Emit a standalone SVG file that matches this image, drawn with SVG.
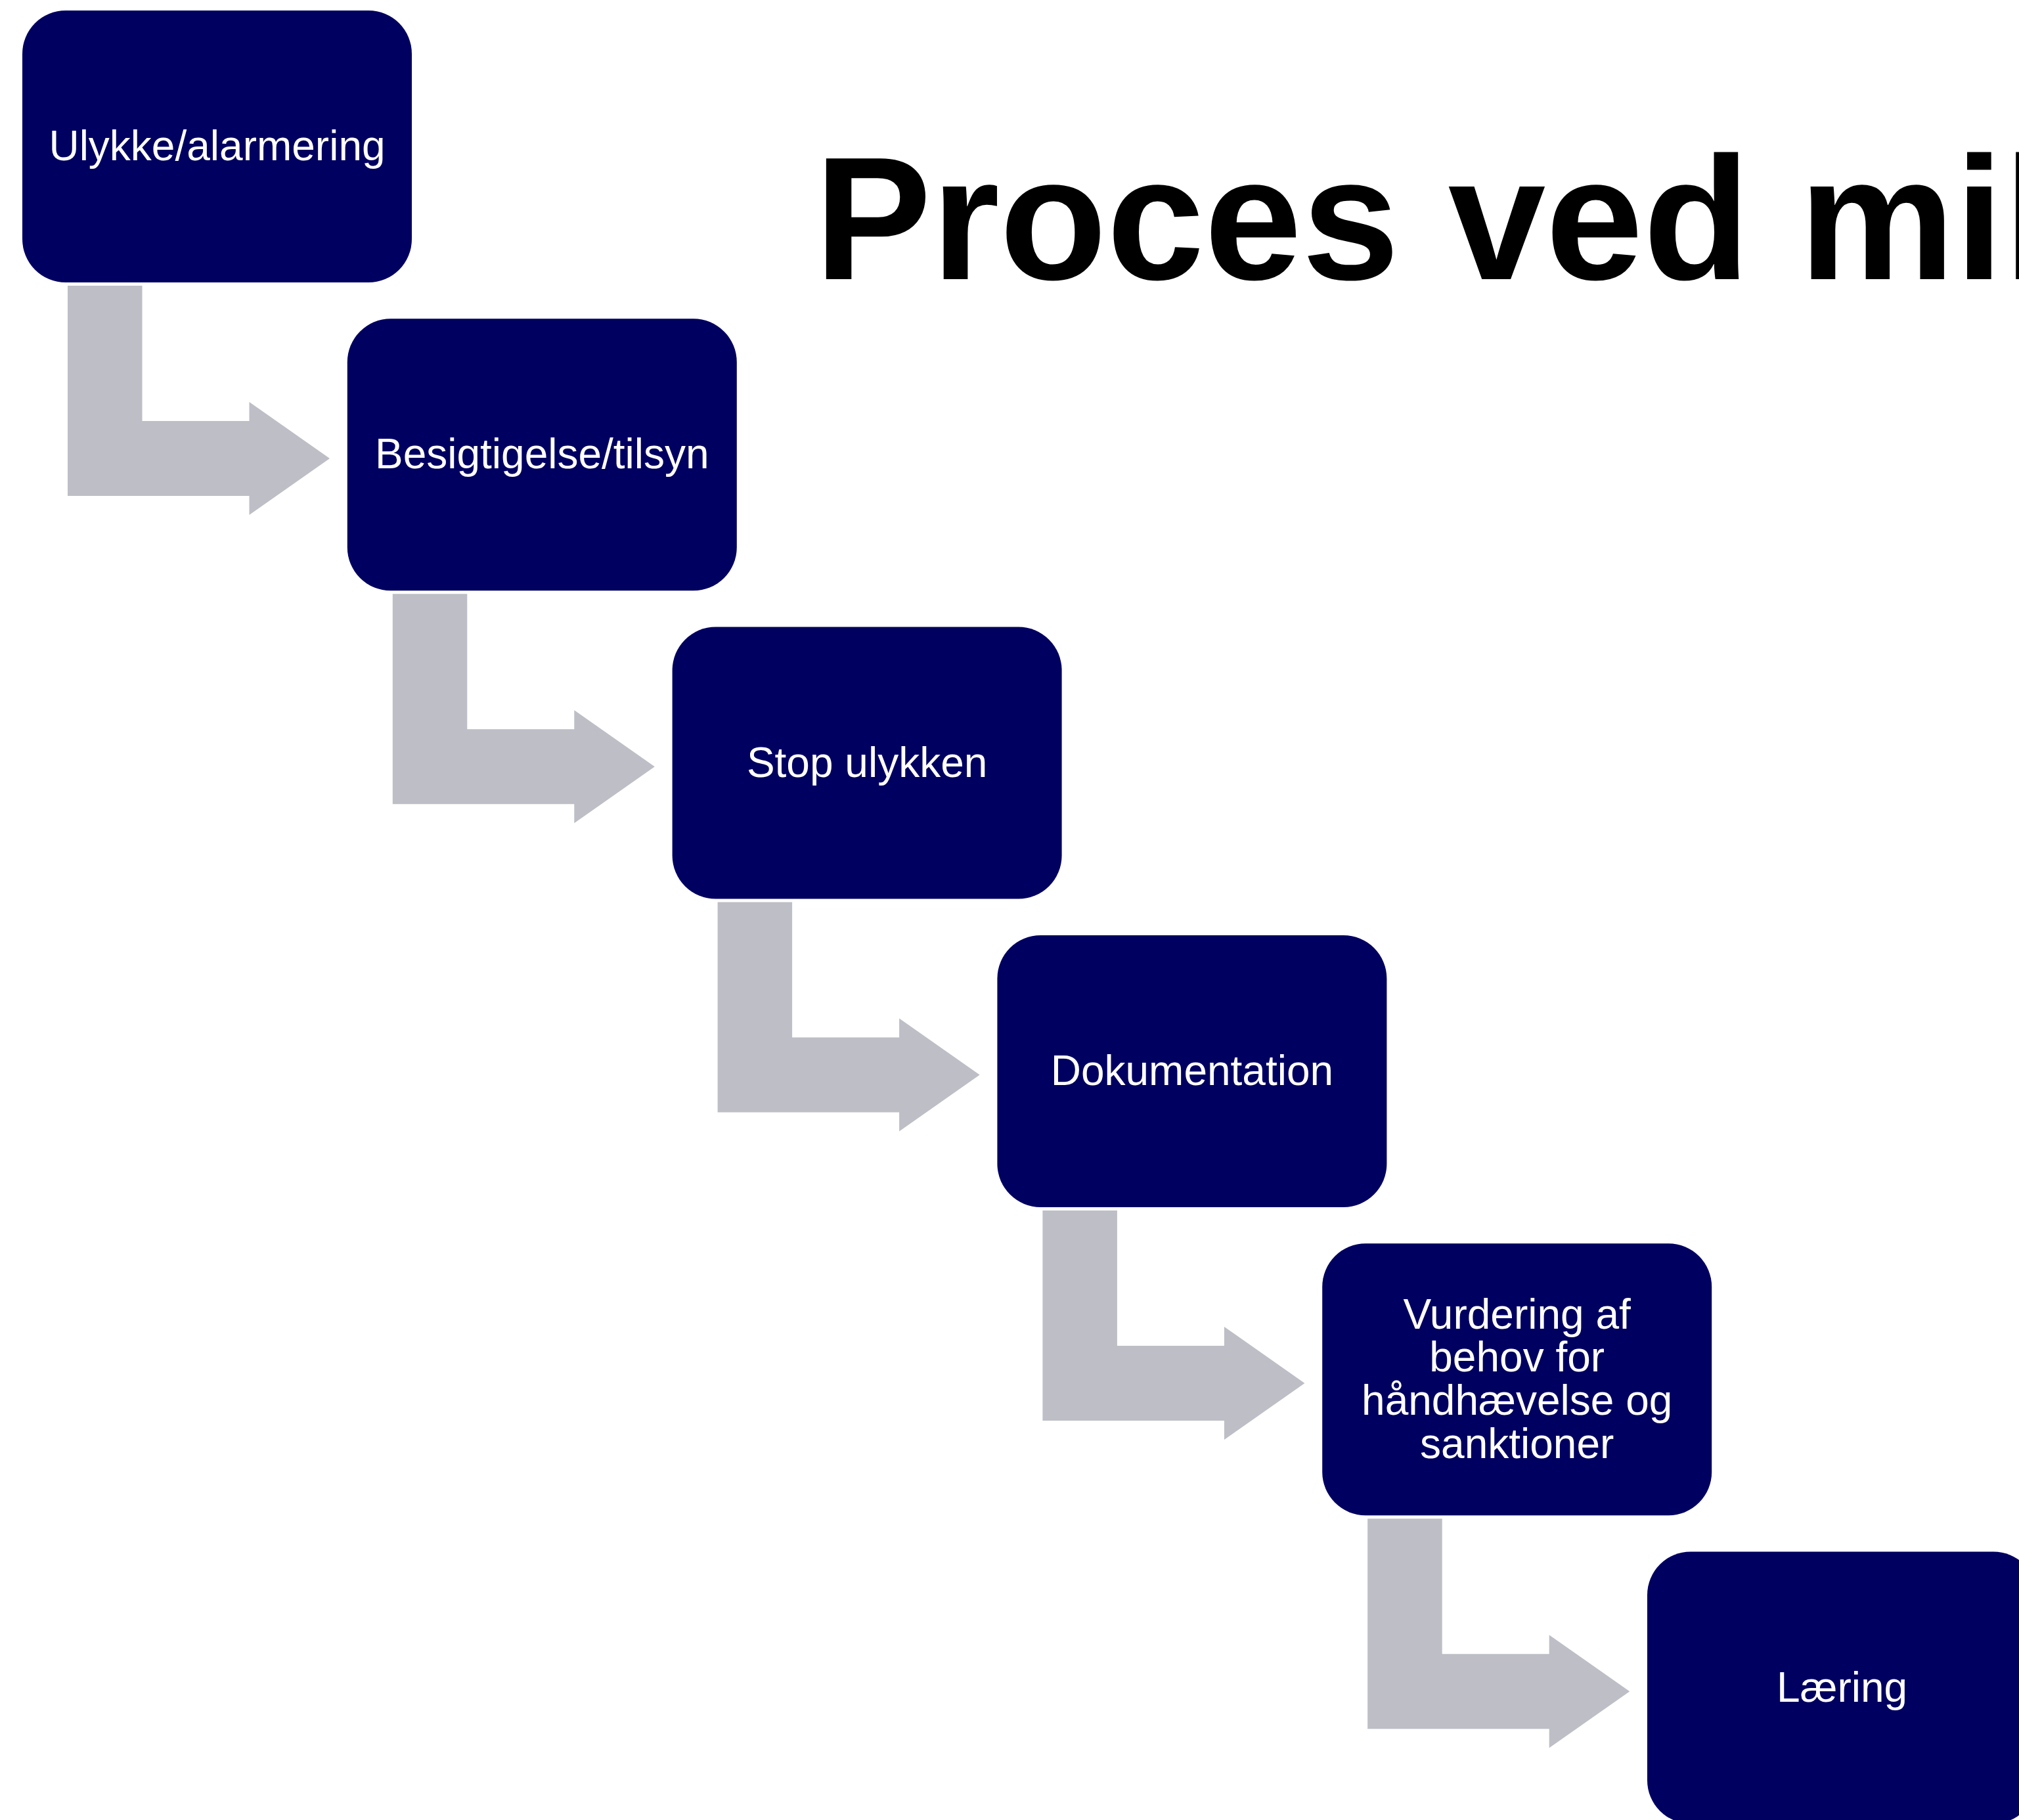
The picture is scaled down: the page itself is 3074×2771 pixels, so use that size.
<svg xmlns="http://www.w3.org/2000/svg" width="3074" height="2771" viewBox="0 0 3074 2771">
<defs>
<style>
.box{fill:#000060}
.lbl{fill:#ffffff;font-family:"Liberation Sans",Arial,sans-serif;font-size:64px;text-anchor:middle}
.arr{fill:#BDBEC6}
.title{fill:#000000;font-family:"Liberation Sans",Arial,sans-serif;font-size:267px;font-weight:bold}
</style>
<path id="arrowShape" d="M103,435 H216.5 V641 H379.5 V612 L502,698 L379.5,784 V755 H103 Z"/>
</defs>
<rect x="0" y="0" width="3074" height="2771" fill="#ffffff"/>
<text class="title" x="1240" y="425">Proces ved mil</text>
<g id="connectors">
<use href="#arrowShape" class="arr" transform="translate(0,0)"/>
<use href="#arrowShape" class="arr" transform="translate(494.8,469.3)"/>
<use href="#arrowShape" class="arr" transform="translate(989.6,938.6)"/>
<use href="#arrowShape" class="arr" transform="translate(1484.4,1407.9)"/>
<use href="#arrowShape" class="arr" transform="translate(1979.2,1877.2)"/>
</g>
<g id="node1">
<rect class="box" x="34" y="16" width="593" height="414" rx="66" ry="66"/>
<text class="lbl" x="330.5" y="244">Ulykke/alarmering</text>
</g>
<g id="node2">
<rect class="box" x="528.8" y="485.3" width="593" height="414" rx="66" ry="66"/>
<text class="lbl" x="825.3" y="713.3">Besigtigelse/tilsyn</text>
</g>
<g id="node3">
<rect class="box" x="1023.6" y="954.6" width="593" height="414" rx="66" ry="66"/>
<text class="lbl" x="1320.1" y="1182.6">Stop ulykken</text>
</g>
<g id="node4">
<rect class="box" x="1518.4" y="1423.9" width="593" height="414" rx="66" ry="66"/>
<text class="lbl" x="1814.9" y="1651.9">Dokumentation</text>
</g>
<g id="node5">
<rect class="box" x="2013.2" y="1893.2" width="593" height="414" rx="66" ry="66"/>
<text class="lbl" x="2309.7"><tspan x="2309.7" y="2022.5">Vurdering af</tspan><tspan x="2309.7" y="2088.2">behov for</tspan><tspan x="2309.7" y="2153.9">håndhævelse og</tspan><tspan x="2309.7" y="2219.6">sanktioner</tspan></text>
</g>
<g id="node6">
<rect class="box" x="2508" y="2362.5" width="593" height="414" rx="66" ry="66"/>
<text class="lbl" x="2804.5" y="2590.5">Læring</text>
</g>
</svg>
